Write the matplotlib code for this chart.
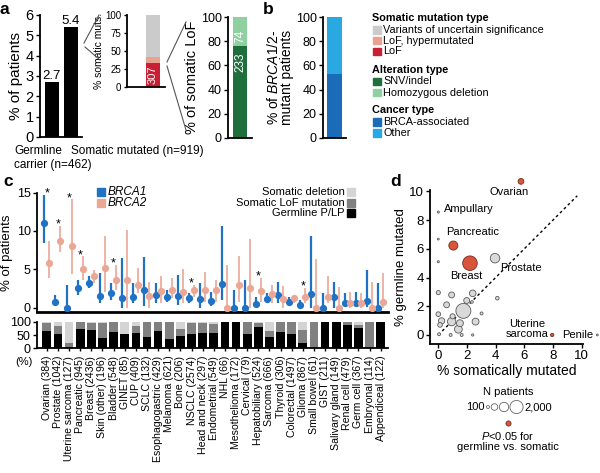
import numpy as np
import matplotlib
matplotlib.use('Agg')
import matplotlib.pyplot as plt
from matplotlib.patches import Rectangle

plt.rcParams['font.family'] = ['Liberation Sans', 'DejaVu Sans']
plt.rcParams['mathtext.fontset'] = 'custom'
plt.rcParams['mathtext.rm'] = 'Liberation Sans'
plt.rcParams['mathtext.it'] = 'Liberation Sans:italic'
plt.rcParams['axes.linewidth'] = 1.3
plt.rcParams['xtick.major.width'] = 1.0
plt.rcParams['ytick.major.width'] = 1.0
plt.rcParams['xtick.major.size'] = 3
plt.rcParams['ytick.major.size'] = 3
plt.rcParams['xtick.major.pad'] = 1.5
plt.rcParams['ytick.major.pad'] = 1.5

# ---- panel a / b data
carrier_groups = ['Germline\ncarrier (n=462)', 'Somatic mutated (n=919)']
carrier_pct = [2.7, 5.4]

somatic_types = ['LoF', 'LoF, hypermutated', 'Variants of uncertain significance']
somatic_pct = [33.4, 7.6, 59.0]
lof_count_label = 307

alteration_types = ['SNV/indel', 'Homozygous deletion']
alteration_counts = [233, 74]

cancer_groups = ['BRCA-associated', 'Other']
cancer_group_pct = [53, 47]

# ---- panel c data
cancer_types = ['Ovarian (384)', 'Prostate (1042)', 'Uterine sarcoma (127)', 'Pancreatic (945)',
                'Breast (2436)', 'Skin (other) (196)', 'Bladder (548)', 'GINET (85)', 'CUP (409)',
                'SCLC (132)', 'Esophagogastric (429)', 'Melanoma (621)', 'Bone (206)', 'NSCLC (2574)',
                'Head and neck (297)', 'Endometrial (549)', 'NHL (66)', 'Mesothelioma (172)',
                'Cervical (79)', 'Hepatobiliary (524)', 'Sarcoma (666)', 'Thyroid (306)',
                'Colorectal (1497)', 'Glioma (867)', 'Small bowel (61)', 'GIST (211)',
                'Salivary gland (149)', 'Renal cell (479)', 'Germ cell (367)', 'Embryonal (114)',
                'Appendiceal (122)']
brca1_pct = [11.1, 0.8, 0.0, 2.55, 3.3, 1.56, 2.0, 1.25, 1.47, 2.34, 1.7, 1.47, 1.56, 1.25, 1.17, 0.95,
             3.1, 0.0, 0.0, 0.47, 1.17, 1.7, 0.82, 0.39, 1.77, 0.0, 1.47, 0.6, 0.6, 0.95, 0.0]
brca1_lo = [8.4, 0.26, 0.0, 1.7, 2.55, 0.6, 1.1, 0.0, 0.6, 0.2, 0.6, 0.8, 0.4, 0.6, 0.05, 0.2,
            1.04, 0.0, 0.0, 0.1, 0.6, 0.6, 0.5, 0.0, 0.0, 0.0, 0.0, 0.17, 0.17, 0.17, 0.0]
brca1_hi = [14.7, 1.7, 3.0, 3.7, 4.1, 4.5, 3.2, 6.5, 3.2, 6.6, 3.2, 2.3, 4.3, 1.9, 3.2, 2.1,
            10.6, 2.3, 3.6, 1.47, 1.9, 3.4, 1.4, 1.04, 9.35, 1.9, 3.4, 1.9, 2.1, 4.94, 3.2]
brca2_pct = [5.9, 8.7, 8.0, 5.06, 4.1, 5.2, 3.7, 3.6, 3.0, 1.56, 2.25, 2.34, 2.08, 2.34, 2.34, 2.34,
             0.0, 2.95, 2.6, 2.2, 1.77, 1.17, 1.25, 1.47, 0.0, 1.47, 0.0, 0.6, 0.6, 0.0, 0.82]
brca2_lo = [3.9, 7.3, 4.4, 3.6, 3.2, 2.1, 2.3, 0.0, 1.9, 0.0, 0.6, 1.25, 0.6, 1.47, 0.8, 0.8,
            0.0, 0.8, 0.0, 0.8, 0.6, 0.0, 0.6, 0.6, 0.0, 0.6, 0.0, 0.0, 0.0, 0.0, 0.0]
brca2_hi = [8.7, 10.6, 14.1, 6.7, 4.9, 9.35, 5.6, 10.1, 5.15, 3.4, 4.1, 3.85, 5.0, 3.0, 4.7, 3.6,
            5.6, 6.75, 8.9, 3.85, 3.0, 2.86, 1.7, 2.55, 6.4, 4.15, 2.7, 2.1, 2.0, 3.4, 4.6]
# 0 = no star, 1 = BRCA1, 2 = BRCA2
star_gene = [1, 2, 2, 2, 0, 0, 2, 0, 0, 0, 0, 0, 0, 2, 0, 0, 0, 0, 0, 2, 0, 0, 0, 2, 0, 0, 0, 0, 0, 0, 0]

germline_share = [65, 52, 5, 75, 70, 40, 60, 52, 58, 41, 66, 33, 45, 52, 58, 56, 100, 100, 54, 82,
                  41, 60, 52, 20, 0, 100, 100, 87, 78, 0, 100]
lof_share = [33, 34, 15, 25, 25, 55, 40, 0, 28, 59, 34, 67, 30, 43, 40, 38, 0, 0, 46, 13,
             26, 40, 48, 50, 100, 0, 0, 13, 10, 100, 0]
deletion_share = [100 - g - l for g, l in zip(germline_share, lof_share)]

# ---- panel d data
d_somatic = [5.77, 0.0, 0.0, 0.0, 1.05, 2.21, 3.96, 0.0, 0.93, 2.4, 1.98, 2.35, 4.12, 0.58, 0.0, 1.0,
             1.75, 3.02, 0.23, 0.93, 1.51, 2.6, 1.4, 0.12, 0.86, 1.63, 2.4, 0.05, 7.95, 11.1]
d_germline = [10.7, 8.56, 6.68, 5.1, 6.23, 5.0, 5.35, 2.95, 2.79, 2.9, 2.4, 2.3, 2.56, 2.1, 1.45, 1.3,
              1.68, 1.5, 0.98, 0.93, 0.82, 0.93, 0.4, 0.7, 0.0, 0.0, 0.0, 0.05, 0.0, 0.0]
d_n = [384, 50, 40, 50, 945, 2436, 1042, 200, 400, 500, 400, 80, 150, 400, 250, 300,
       2574, 100, 450, 800, 550, 550, 700, 250, 100, 100, 60, 100, 127, 40]
d_sig = [1, 0, 0, 0, 1, 1, 0, 0, 0, 0, 0, 0, 0, 0, 0, 0, 0, 0, 0, 0, 0, 0, 0, 0, 0, 0, 0, 0, 1, 0]
size_legend_n = [100, 500, 1000, 2000]

# colours
c_vus, c_hyper, c_lof = '#cbcbcb', '#eaa290', '#c81f35'
c_snv, c_homdel = '#1e6f3b', '#8fd0a0'
c_brca_assoc, c_other = '#1a6cb8', '#29a8e2'
c_brca1, c_brca2 = '#1f72c4', '#eba796'
c_del, c_slof, c_germ = '#d4d4d4', '#808080', '#000000'
c_sig, c_ns = '#d8553b', '#d9d9d9'

fig = plt.figure(figsize=(6, 4.73), dpi=100)
W, H = 600, 473


def px_axes(left, top, right, bottom):
    return fig.add_axes([left / W, 1 - bottom / H, (right - left) / W, (bottom - top) / H])


def clean(ax):
    ax.spines['top'].set_visible(False)
    ax.spines['right'].set_visible(False)


def size_of(n):
    return np.asarray(n) * 0.045


# ---- a: carriers
ax = px_axes(40, 15, 82, 137)
clean(ax)
bars = ax.bar([0, 1], carrier_pct, width=0.74, color='black')
ax.bar_label(bars, labels=[str(v) for v in carrier_pct], fontsize=9.5, padding=0)
ax.set_xlim(-0.63, 1.58)
ax.set_ylim(0, 6)
ax.set_yticks(range(7))
ax.set_xticks([])
ax.tick_params(axis='y', labelsize=10.5)
ax.set_ylabel('% of patients', fontsize=11, labelpad=2)

# ---- a: somatic mutation types
ax = px_axes(127, 15, 165, 87)
clean(ax)
bottom = 0
for val, col in zip(somatic_pct, [c_lof, c_hyper, c_vus]):
    ax.bar(0.684, val, bottom=bottom, width=0.368, color=col)
    bottom += val
ax.text(0.684, somatic_pct[0] / 2, str(lof_count_label), rotation=90, color='white',
        ha='center', va='center', fontsize=8)
ax.set_xlim(0, 1)
ax.set_ylim(0, 100)
ax.set_yticks([0, 25, 50, 75, 100])
ax.set_xticks([])
ax.tick_params(axis='y', labelsize=7, length=2.5)
ax.set_ylabel('% somatic muts.', fontsize=7.5, labelpad=1)

# ---- a: alteration types
ax = px_axes(228, 17, 252, 138)
clean(ax)
alt_pct = [100 * c / sum(alteration_counts) for c in alteration_counts]
bottom = 0
for val, cnt, col in zip(alt_pct, alteration_counts, [c_snv, c_homdel]):
    ax.bar(0.5, val, bottom=bottom, width=0.583, color=col)
    ax.text(0.5, bottom + val - 13 if cnt > 100 else bottom + val - 16, str(cnt), rotation=90,
            color='white', ha='center', va='center', fontsize=8.5)
    bottom += val
ax.set_xlim(0, 1)
ax.set_ylim(0, 100)
ax.set_yticks(range(0, 101, 20))
ax.set_xticks([])
ax.tick_params(axis='y', labelsize=9)
ax.set_ylabel('% of somatic LoF', fontsize=10.5, labelpad=1)

# ---- b
ax = px_axes(323, 17, 346, 138)
clean(ax)
bottom = 0
for val, col in zip(cancer_group_pct, [c_brca_assoc, c_other]):
    ax.bar(0.5, val, bottom=bottom, width=0.65, color=col)
    bottom += val
ax.set_xlim(0, 1)
ax.set_ylim(0, 100)
ax.set_yticks(range(0, 101, 20))
ax.set_xticks([])
ax.tick_params(axis='y', labelsize=9)
ax.set_ylabel('% of $\\mathit{BRCA1/2}$-\nmutant patients', fontsize=10, labelpad=1, linespacing=0.95)

# ---- c: rates
x = np.arange(len(cancer_types))
xlim = (-0.88, 30.65)
ax = px_axes(37, 192.5, 388, 312)
clean(ax)
for pct, lo, hi, col, off, lw in [(brca1_pct, brca1_lo, brca1_hi, c_brca1, -0.225, 1.6),
                                  (brca2_pct, brca2_lo, brca2_hi, c_brca2, 0.225, 1.2)]:
    pct, lo, hi = np.array(pct), np.array(lo), np.array(hi)
    ax.errorbar(x + off, pct, yerr=[pct - lo, hi - pct], fmt='o', ms=4.2, color=col,
                elinewidth=lw, capsize=0, clip_on=False, zorder=3)
for i, g in enumerate(star_gene):
    if g:
        top = brca1_hi[i] if g == 1 else brca2_hi[i]
        ax.text(x[i], top - 0.2, '*', ha='center', va='baseline', fontsize=9, clip_on=False)
ax.set_xlim(*xlim)
ax.set_ylim(-0.52, 15)
ax.set_yticks([0, 5, 10, 15])
ax.set_xticks([])
ax.spines['bottom'].set_linewidth(2)
ax.tick_params(axis='y', labelsize=9)
ax.set_ylabel('% of patients', fontsize=9.5, labelpad=3)

# ---- c: mutation origin shares
ax = px_axes(37, 322, 388, 348)
clean(ax)
ax.bar(x, germline_share, width=0.78, color=c_germ)
ax.bar(x, lof_share, bottom=germline_share, width=0.78, color=c_slof)
ax.bar(x, deletion_share, bottom=np.add(germline_share, lof_share), width=0.78, color=c_del)
ax.set_xlim(*xlim)
ax.set_ylim(0, 100)
ax.set_yticks([0, 50, 100])
ax.set_xticks(x)
ax.set_xticklabels(cancer_types, rotation=90, fontsize=7.6)
ax.tick_params(axis='y', labelsize=9)
ax.tick_params(axis='x', length=2.5, pad=3)

# ---- d
ax = px_axes(430, 190, 583, 344)
clean(ax)
ax.plot([0, 9.7], [0, 9.7], ls=(0, (2, 2)), color='black', lw=1)
order = np.argsort(d_n)[::-1]
cols = [c_sig if d_sig[i] else c_ns for i in order]
edges = ['#7a2a1c' if d_sig[i] else '#5a5a5a' for i in order]
ax.scatter(np.array(d_somatic)[order], np.array(d_germline)[order], s=size_of(np.array(d_n)[order]),
           c=cols, edgecolors=edges, linewidths=0.6, clip_on=False, zorder=3)
ax.set_xlim(-0.58, 10.1)
ax.set_ylim(-0.63, 10.1)
ax.set_xticks(range(0, 11, 2))
ax.set_yticks(range(0, 11, 2))
ax.tick_params(labelsize=9.5)
ax.set_xlabel('% somatically mutated', fontsize=10, labelpad=1)
ax.set_ylabel('% germline mutated', fontsize=9.5, labelpad=1)
for label, tx, ty, ha in [('Ovarian', 4.93, 9.98, 'center'), ('Ampullary', 0.4, 8.8, 'left'),
                          ('Pancreatic', 0.54, 7.14, 'left'), ('Breast', 0.82, 4.12, 'left'),
                          ('Prostate', 4.3, 4.7, 'left'), ('Uterine\nsarcoma', 6.19, 0.42, 'center'),
                          ('Penile', 8.63, 0.0, 'left')]:
    ax.text(tx, ty, label, ha=ha, va='center', fontsize=8, linespacing=1.0, clip_on=False)

# ---- overlay for legends, connectors and panel letters
ov = fig.add_axes([0, 0, 1, 1])
ov.set_xlim(0, W)
ov.set_ylim(H, 0)
ov.axis('off')

for letter, lx, ly in [('a', 0, 10), ('b', 263, 10), ('c', 3, 181), ('d', 390, 181)]:
    ov.text(lx, ly, letter, fontsize=12.5, fontweight='bold', va='center', ha='left')

germ_line1, germ_line2 = carrier_groups[0].split('\n')
ov.text(14, 151, germ_line1, fontsize=8.5, va='center', ha='left')
ov.text(14, 165, germ_line2, fontsize=8.5, va='center', ha='left')
ov.text(71, 151, carrier_groups[1], fontsize=8.5, va='center', ha='left')

line_kw = dict(color='#555555', lw=0.8)
ov.plot([84, 99], [43, 15], **line_kw)
ov.plot([85, 100], [47, 60], **line_kw)
ov.plot([167, 186], [62, 22], **line_kw)
ov.plot([167, 186], [66, 130], **line_kw)

# big legend
legend_rows = [('Somatic mutation type', None, 18), (somatic_types[2], c_vus, 30),
               (somatic_types[1], c_hyper, 40.5), (somatic_types[0], c_lof, 51.5),
               ('Alteration type', None, 70), (alteration_types[0], c_snv, 81.5),
               (alteration_types[1], c_homdel, 92.5),
               ('Cancer type', None, 110), (cancer_groups[0], c_brca_assoc, 122),
               (cancer_groups[1], c_other, 133)]
for text, col, y in legend_rows:
    if col is None:
        ov.text(372, y, text, fontsize=7.8, fontweight='bold', va='center', ha='left')
    else:
        ov.add_patch(Rectangle((373, y - 3.7), 8, 7.4, color=col))
        ov.text(383, y, text, fontsize=7.8, va='center', ha='left')

# c legends
for text, col, y in [('BRCA1', c_brca1, 192), ('BRCA2', c_brca2, 202.5)]:
    ov.add_patch(Rectangle((97, y - 4), 8, 8, color=col))
    ov.text(108, y, text, fontsize=8.5, style='italic', va='center', ha='left')
for text, col, y in [('Somatic deletion', c_del, 192), ('Somatic LoF mutation', c_slof, 202.5),
                     ('Germline P/LP', c_germ, 213)]:
    ov.add_patch(Rectangle((347, y - 4), 8, 8, color=col))
    ov.text(345, y, text, fontsize=8, va='center', ha='right')
ov.text(15, 362, '(%)', fontsize=8, va='center', ha='left')

# d size legend
ov.text(508, 392, 'N patients', fontsize=8, ha='center', va='center')
ov.text(485, 407, '100', fontsize=8, ha='right', va='center')
ov.scatter([488, 494.5, 504, 516.5], [407] * 4, s=size_of(size_legend_n), facecolors='white',
           edgecolors='#666666', linewidths=0.6)
ov.text(524, 407, '2,000', fontsize=8, ha='left', va='center')
ov.scatter([508], [423], s=size_of(300), c=c_sig, edgecolors='#7a2a1c', linewidths=0.6)
ov.text(508, 436, '$\\mathit{P}$<0.05 for', fontsize=8, ha='center', va='center')
ov.text(508, 447, 'germline vs. somatic', fontsize=8, ha='center', va='center')

fig.savefig('out.png', dpi=100)
